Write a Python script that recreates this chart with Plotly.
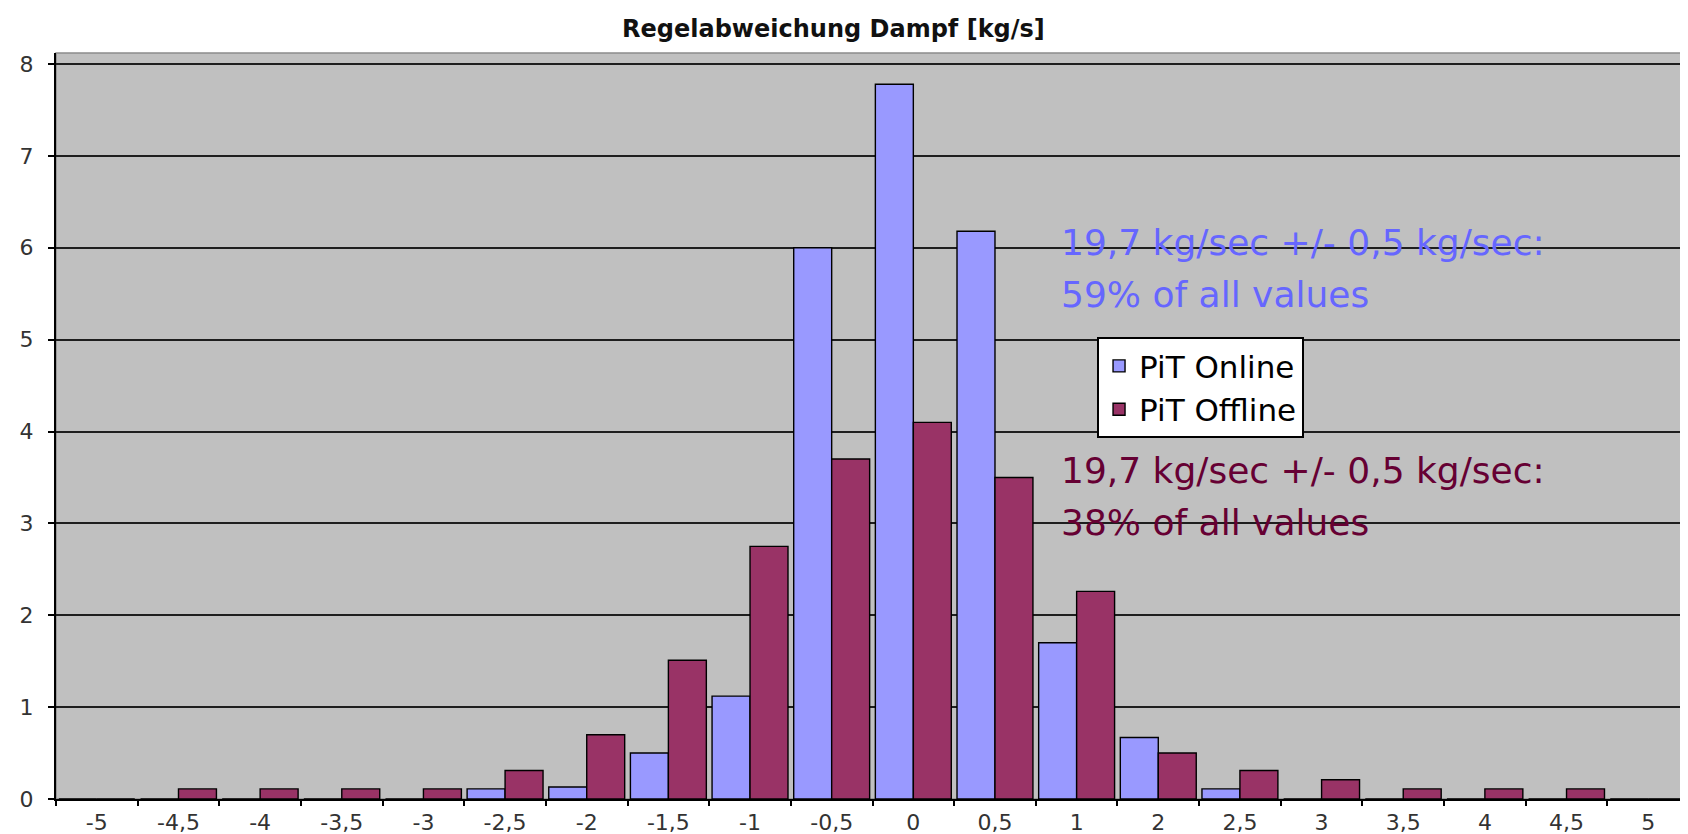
import plotly.graph_objects as go

categories = ["-5", "-4,5", "-4", "-3,5", "-3", "-2,5", "-2", "-1,5", "-1", "-0,5",
              "0", "0,5", "1", "2", "2,5", "3", "3,5", "4", "4,5", "5"]
online = [0, 0, 0, 0, 0, 0.11, 0.13, 0.5, 1.12, 6.0,
          7.78, 6.18, 1.7, 0.67, 0.11, 0, 0, 0, 0, 0]
offline = [0, 0.11, 0.11, 0.11, 0.11, 0.31, 0.7, 1.51, 2.75, 3.7,
           4.1, 3.5, 2.26, 0.5, 0.31, 0.21, 0.11, 0.11, 0.11, 0]
y_ticks = [0, 1, 2, 3, 4, 5, 6, 7, 8]

FONT = "DejaVu Sans"

fig = go.Figure()
fig.add_trace(go.Bar(x=categories, y=online, name="PiT Online",
                     marker=dict(color="#9999FF", line=dict(color="#000000", width=1.4))))
fig.add_trace(go.Bar(x=categories, y=offline, name="PiT Offline",
                     marker=dict(color="#993366", line=dict(color="#000000", width=1.4))))

fig.update_layout(
    width=1688, height=834,
    margin=dict(l=48, r=7, t=45, b=41),
    paper_bgcolor="#FFFFFF",
    plot_bgcolor="#C0C0C0",
    barmode="group", bargap=0.07, bargroupgap=0,
    title=dict(text="<b>Regelabweichung Dampf [kg/s]</b>", x=0.489, xref="container",
               y=0.975, yref="container", xanchor="center", yanchor="middle",
               font=dict(family=FONT, size=24, color="#111111")),
    showlegend=True,
    legend=dict(x=0.6375, y=0.619, xanchor="left", yanchor="top",
                bgcolor="#FFFFFF", bordercolor="#000000", borderwidth=2,
                font=dict(family=FONT, size=31, color="#000000"),
                traceorder="normal", itemclick=False, itemwidth=30,
                tracegroupgap=0),
    xaxis=dict(type="category", tickson="boundaries", ticks="outside", ticklen=5,
               tickcolor="#000000", tickwidth=1.5, showline=True, linecolor="#000000",
               linewidth=2, showgrid=False, ticklabelstandoff=3,
               tickfont=dict(family=FONT, size=22, color="#333333")),
    yaxis=dict(range=[0, 8.12], tickvals=y_ticks, ticks="outside", ticklen=6,
               tickcolor="#000000", tickwidth=1.5, showline=True, linecolor="#000000",
               linewidth=2, showgrid=True, gridcolor="#1e1e1e", gridwidth=1.5,
               zeroline=False, ticklabelstandoff=10,
               tickfont=dict(family=FONT, size=22, color="#333333")),
    font=dict(family=FONT),
)

fig.add_shape(type="rect", xref="x domain", yref="y domain", x0=0, x1=1, y0=0, y1=1,
              line=dict(color="#8c8c8c", width=1.5), layer="below")

blue_txt = "#6666FF"
red_txt = "#660033"
ann = [
    ("19,7 kg/sec +/- 0,5 kg/sec:", 0.746, blue_txt),
    ("59% of all values", 0.676, blue_txt),
    ("19,7 kg/sec +/- 0,5 kg/sec:", 0.441, red_txt),
    ("38% of all values", 0.371, red_txt),
]
for txt, yy, col in ann:
    fig.add_annotation(text=txt, xref="paper", yref="paper", x=0.614, y=yy,
                       xanchor="left", yanchor="middle", showarrow=False,
                       font=dict(family=FONT, size=36, color=col))

fig.write_html("out.html")
